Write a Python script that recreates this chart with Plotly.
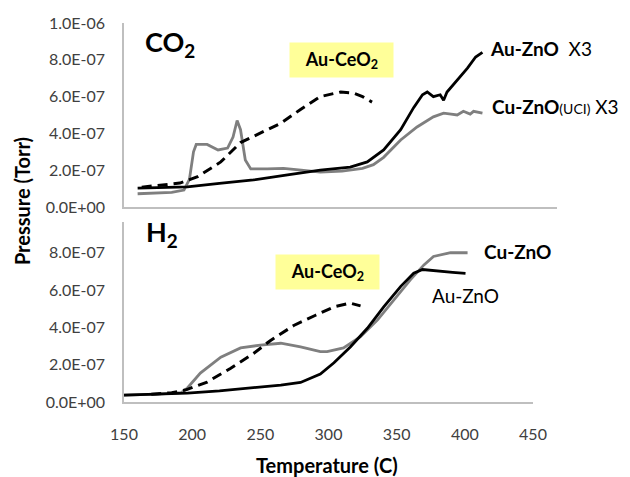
import plotly.graph_objects as go

# ---- data (pressures in units of 1e-7 Torr) ----
SCALE = 1e-7

# CO2 panel
co2_cuzno_T = [160, 175, 185, 194, 198, 201, 203, 211, 219, 226, 230, 233, 235.5, 239, 243, 255, 265, 267,
               280, 294, 310, 325, 333, 340.5, 353, 365, 377, 384.5, 390, 394.5, 399, 404, 406.5, 413]
co2_cuzno_P = [0.72, 0.75, 0.8, 0.92, 1.5, 3.0, 3.4, 3.4, 3.1, 3.2, 3.8, 4.7, 4.2, 2.55, 2.07, 2.07, 2.07, 2.1,
               2.0, 1.9, 1.95, 2.1, 2.3, 2.7, 3.64, 4.35, 4.9, 5.1, 5.05, 5.0, 5.2, 5.05, 5.2, 5.1]

co2_auzno_T = [160, 180, 196.5, 220, 245, 270, 279.5, 294, 316, 328.5, 340.5, 353, 362.5, 369, 372.5,
               377, 382, 384.5, 387, 394.5, 402, 408, 413]
co2_auzno_P = [1.03, 1.06, 1.09, 1.28, 1.47, 1.75, 1.85, 2.0, 2.17, 2.45, 3.1, 4.2, 5.4, 6.1, 6.25,
               6.0, 6.1, 5.8, 6.25, 6.9, 7.55, 8.15, 8.4]

co2_auceo2_T = [163, 171.5, 191, 204, 221, 235.5, 252, 265, 279.5, 294, 309, 318, 325, 332]
co2_auceo2_P = [1.08, 1.14, 1.3, 1.65, 2.45, 3.5, 4.1, 4.55, 5.3, 6.0, 6.25, 6.2, 6.0, 5.7]

# H2 panel
h2_auzno_T = [150, 175, 196.5, 220, 245, 265, 279.5, 294, 304, 316, 328.5, 340.5, 353, 362.5, 369,
              382, 391, 400.5]
h2_auzno_P = [0.37, 0.42, 0.48, 0.6, 0.75, 0.91, 1.05, 1.5, 2.1, 2.95, 3.95, 5.1, 6.2, 6.9, 7.1,
              7.0, 6.95, 6.9]

h2_cuzno_T = [150, 175, 192, 196.5, 206, 221, 235.5, 250, 265, 279.5, 294, 299, 311, 323.5, 336,
              348, 360, 370, 377, 389.5, 402]
h2_cuzno_P = [0.37, 0.42, 0.5, 0.75, 1.55, 2.4, 2.9, 3.05, 3.15, 2.95, 2.7, 2.7, 2.9, 3.5, 4.4,
              5.45, 6.55, 7.35, 7.8, 8.0, 8.0]

h2_auceo2_T = [170, 185, 195, 211, 228, 245, 257.5, 274.5, 290.5, 304, 316, 323.5]
h2_auceo2_P = [0.42, 0.5, 0.64, 1.07, 1.8, 2.6, 3.3, 4.1, 4.65, 5.1, 5.3, 5.15]

# ticks
top_ytick_vals = [0, 2e-7, 4e-7, 6e-7, 8e-7, 1e-6]
top_ytick_text = ["0.0E+00", "2.0E-07", "4.0E-07", "6.0E-07", "8.0E-07", "1.0E-06"]
bot_ytick_vals = [0, 2e-7, 4e-7, 6e-7, 8e-7]
bot_ytick_text = ["0.0E+00", "2.0E-07", "4.0E-07", "6.0E-07", "8.0E-07"]
xtick_vals = [150, 200, 250, 300, 350, 400, 450]


def sc(vals):
    return [v * SCALE for v in vals]


FONT = "Lato"
BLACK = "#000000"
GRAY = "#7f7f7f"
AXIS = "#bfbfbf"
DASH = "10px,6px"

fig = go.Figure()

# top panel (x2, y2)
fig.add_trace(go.Scatter(x=co2_cuzno_T, y=sc(co2_cuzno_P), xaxis="x2", yaxis="y2", mode="lines",
                         line=dict(color=GRAY, width=2.8), showlegend=False))
fig.add_trace(go.Scatter(x=co2_auzno_T, y=sc(co2_auzno_P), xaxis="x2", yaxis="y2", mode="lines",
                         line=dict(color=BLACK, width=2.8), showlegend=False))
fig.add_trace(go.Scatter(x=co2_auceo2_T, y=sc(co2_auceo2_P), xaxis="x2", yaxis="y2", mode="lines",
                         line=dict(color=BLACK, width=3, dash=DASH), showlegend=False))

# bottom panel (x, y)
fig.add_trace(go.Scatter(x=h2_cuzno_T, y=sc(h2_cuzno_P), mode="lines",
                         line=dict(color=GRAY, width=2.8), showlegend=False))
fig.add_trace(go.Scatter(x=h2_auzno_T, y=sc(h2_auzno_P), mode="lines",
                         line=dict(color=BLACK, width=2.8), showlegend=False))
fig.add_trace(go.Scatter(x=h2_auceo2_T, y=sc(h2_auceo2_P), mode="lines",
                         line=dict(color=BLACK, width=3, dash=DASH), showlegend=False))

tickfont = dict(family=FONT, size=16, color="#404040")

fig.update_layout(
    width=630, height=477,
    margin=dict(l=124, r=73, t=23, b=75),
    paper_bgcolor="white", plot_bgcolor="white",
    xaxis=dict(domain=[0, 0.9446], range=[150, 450], tickvals=xtick_vals,
               showgrid=False, zeroline=False, showline=True, linecolor=AXIS, linewidth=1.5,
               ticks="", ticklabelstandoff=17, tickfont=tickfont, anchor="y"),
    yaxis=dict(domain=[0, 0.475], range=[0, 9.65e-7], tickvals=bot_ytick_vals, ticktext=bot_ytick_text,
               showgrid=False, zeroline=False, showline=True, linecolor=AXIS, linewidth=1.5,
               ticks="", ticklabelstandoff=14, tickfont=tickfont, anchor="x"),
    xaxis2=dict(domain=[0, 1], range=[150, 467.7], showticklabels=False,
                showgrid=False, zeroline=False, showline=True, linecolor=AXIS, linewidth=1.5,
                ticks="", anchor="y2"),
    yaxis2=dict(domain=[0.5145, 1], range=[0, 1e-6], tickvals=top_ytick_vals, ticktext=top_ytick_text,
                showgrid=False, zeroline=False, showline=True, linecolor=AXIS, linewidth=1.5,
                ticks="", ticklabelstandoff=14, tickfont=tickfont, anchor="x2"),
)

ann = []
# axis titles
ann.append(dict(text="<b>Temperature (C)</b>", x=0.469, y=-0.166, xref="paper", yref="paper",
                xanchor="center", yanchor="middle",
                showarrow=False, font=dict(family=FONT, size=20, color=BLACK)))
ann.append(dict(text="<b>Pressure (Torr)</b>", x=-0.2356, y=0.53, xref="paper", yref="paper",
                xanchor="center", yanchor="middle",
                showarrow=False, textangle=-90, font=dict(family=FONT, size=20, color=BLACK)))
# panel labels
ann.append(dict(text="<b>CO<sub>2</sub></b>", x=0.044, y=0.945, xref="paper", yref="paper",
                xanchor="left", yanchor="middle",
                showarrow=False, font=dict(family=FONT, size=27, color=BLACK)))
ann.append(dict(text="<b>H<sub>2</sub></b>", x=0.046, y=0.445, xref="paper", yref="paper",
                xanchor="left", yanchor="middle",
                showarrow=False, font=dict(family=FONT, size=27, color=BLACK)))
# yellow boxes
for xp, yp in [(0.502, 0.9024), (0.469, 0.343)]:
    ann.append(dict(text="<b>Au-CeO<sub>2</sub></b>", x=xp, y=yp, xref="paper", yref="paper",
                    xanchor="center", yanchor="middle",
                    showarrow=False, bgcolor="#ffff99", width=101, height=32, borderpad=1,
                    font=dict(family=FONT, size=18, color=BLACK)))
# series labels
ann.append(dict(text="<b>Au-ZnO</b>  X3", x=0.8406, y=0.934, xref="paper", yref="paper",
                xanchor="left", yanchor="middle", showarrow=False,
                font=dict(family=FONT, size=19, color=BLACK)))
ann.append(dict(text="<b>Cu-ZnO</b><span style='font-size:14px'>(UCI)</span> X3", x=0.845, y=0.781,
                xref="paper", yref="paper", xanchor="left", yanchor="middle", showarrow=False,
                font=dict(family=FONT, size=19, color=BLACK)))
ann.append(dict(text="<b>Cu-ZnO</b>", x=0.827, y=0.396, xref="paper", yref="paper",
                xanchor="left", yanchor="middle", showarrow=False,
                font=dict(family=FONT, size=19, color=BLACK)))
ann.append(dict(text="Au-ZnO", x=0.7067, y=0.2797, xref="paper", yref="paper",
                xanchor="left", yanchor="middle", showarrow=False,
                font=dict(family=FONT, size=19, color=BLACK)))
fig.update_layout(annotations=ann)

fig.write_html("out.html", config={"displayModeBar": False},
               post_script="document.body.style.margin='0';document.body.style.overflow='hidden';")
